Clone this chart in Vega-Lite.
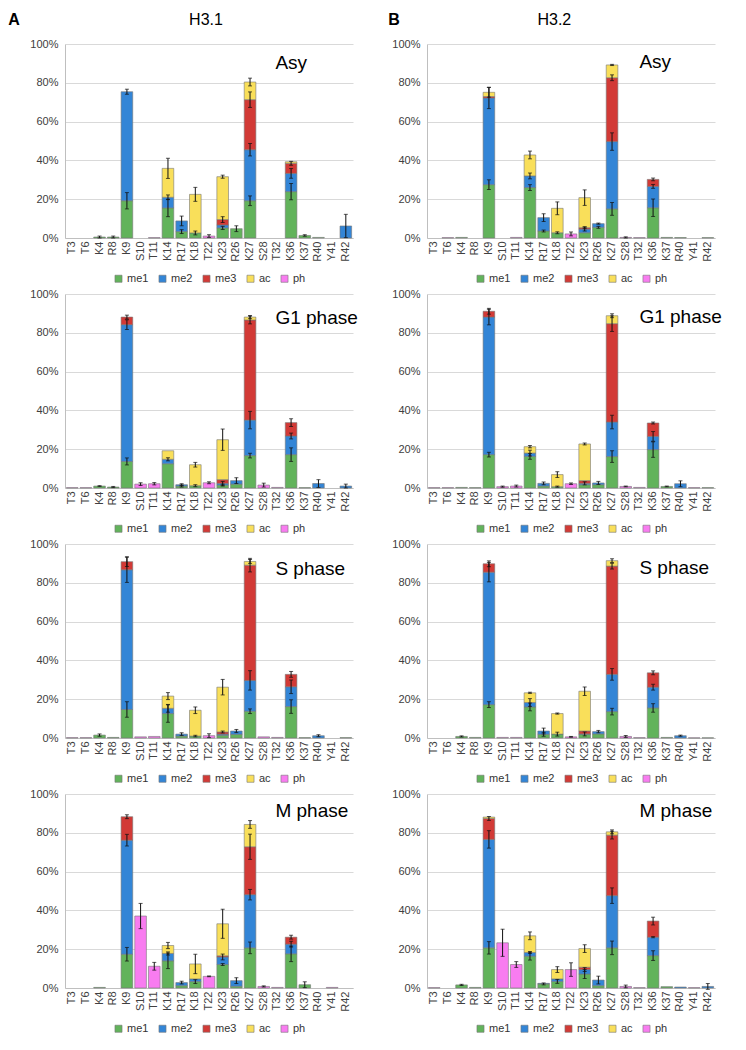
{
  "$schema": "https://vega.github.io/schema/vega-lite/v6.json",
  "background": "white",
  "padding": {"left": 8, "top": 11, "right": 6, "bottom": 6},
  "config": {
    "font": "Liberation Sans",
    "view": {"stroke": null},
    "axis": {"labelFont": "Liberation Sans", "labelFontSize": 11, "labelColor": "#404040", "ticks": false, "domainColor": "#bfbfbf", "gridColor": "#d9d9d9"},
    "axisX": {"labelAngle": 270, "grid": false, "labelPadding": 3},
    "axisY": {"grid": true, "labelPadding": 7, "domain": true},
    "legend": {"orient": "bottom", "direction": "horizontal", "symbolType": "square", "symbolSize": 50, "symbolStrokeColor": "#777", "symbolStrokeWidth": 0.6, "labelFontSize": 11, "labelColor": "#333", "columnPadding": 8, "labelOffset": 3, "offset": 11, "padding": 0, "layout": {"bottom": {"anchor": "middle"}}}
  },
  "datasets": {
    "mods": [{"mod": "me1", "rank": 1}, {"mod": "me2", "rank": 2}, {"mod": "me3", "rank": 3}, {"mod": "ac", "rank": 4}, {"mod": "ph", "rank": 5}],
    "d": [
      {"hist":"H3.1","phase":"Asy","res":"K4","mod":"me1","pct":0.5,"err":0.5},
      {"hist":"H3.1","phase":"Asy","res":"R8","mod":"me1","pct":0.5,"err":0.5},
      {"hist":"H3.1","phase":"Asy","res":"K9","mod":"me1","pct":19.2,"err":4.2},
      {"hist":"H3.1","phase":"Asy","res":"K9","mod":"me2","pct":56.2,"err":1.3},
      {"hist":"H3.1","phase":"Asy","res":"T11","mod":"ph","pct":0.2},
      {"hist":"H3.1","phase":"Asy","res":"K14","mod":"me1","pct":15.5,"err":4.5},
      {"hist":"H3.1","phase":"Asy","res":"K14","mod":"me2","pct":5.5,"err":1.2},
      {"hist":"H3.1","phase":"Asy","res":"K14","mod":"ac","pct":14.9,"err":5.2},
      {"hist":"H3.1","phase":"Asy","res":"R17","mod":"me1","pct":3.3,"err":1},
      {"hist":"H3.1","phase":"Asy","res":"R17","mod":"me2","pct":5.5,"err":2.5},
      {"hist":"H3.1","phase":"Asy","res":"K18","mod":"me1","pct":2.6,"err":1},
      {"hist":"H3.1","phase":"Asy","res":"K18","mod":"ac","pct":19.9,"err":3.6},
      {"hist":"H3.1","phase":"Asy","res":"T22","mod":"ph","pct":1.0,"err":0.7},
      {"hist":"H3.1","phase":"Asy","res":"K23","mod":"me1","pct":5.2,"err":0.8},
      {"hist":"H3.1","phase":"Asy","res":"K23","mod":"me2","pct":1.5},
      {"hist":"H3.1","phase":"Asy","res":"K23","mod":"me3","pct":2.8,"err":1.5},
      {"hist":"H3.1","phase":"Asy","res":"K23","mod":"ac","pct":22.1,"err":0.8},
      {"hist":"H3.1","phase":"Asy","res":"R26","mod":"me1","pct":4.8,"err":1.5},
      {"hist":"H3.1","phase":"Asy","res":"K27","mod":"me1","pct":19.2,"err":2.5},
      {"hist":"H3.1","phase":"Asy","res":"K27","mod":"me2","pct":26.3,"err":3.2},
      {"hist":"H3.1","phase":"Asy","res":"K27","mod":"me3","pct":25.8,"err":4},
      {"hist":"H3.1","phase":"Asy","res":"K27","mod":"ac","pct":9.1,"err":2},
      {"hist":"H3.1","phase":"Asy","res":"K36","mod":"me1","pct":23.9,"err":4.2},
      {"hist":"H3.1","phase":"Asy","res":"K36","mod":"me2","pct":9.4,"err":2.5},
      {"hist":"H3.1","phase":"Asy","res":"K36","mod":"me3","pct":5.2,"err":1},
      {"hist":"H3.1","phase":"Asy","res":"K36","mod":"ac","pct":0.8},
      {"hist":"H3.1","phase":"Asy","res":"K37","mod":"me1","pct":1.3,"err":0.4},
      {"hist":"H3.1","phase":"Asy","res":"R40","mod":"me1","pct":0.3},
      {"hist":"H3.1","phase":"Asy","res":"R42","mod":"me2","pct":6.2,"err":6},

      {"hist":"H3.2","phase":"Asy","res":"T6","mod":"ph","pct":0.2},
      {"hist":"H3.2","phase":"Asy","res":"K4","mod":"me1","pct":0.3},
      {"hist":"H3.2","phase":"Asy","res":"K9","mod":"me1","pct":27.5,"err":2.5},
      {"hist":"H3.2","phase":"Asy","res":"K9","mod":"me2","pct":44.7,"err":5.5},
      {"hist":"H3.2","phase":"Asy","res":"K9","mod":"me3","pct":0.7},
      {"hist":"H3.2","phase":"Asy","res":"K9","mod":"ac","pct":2.2,"err":2.5},
      {"hist":"H3.2","phase":"Asy","res":"T11","mod":"ph","pct":0.3},
      {"hist":"H3.2","phase":"Asy","res":"K14","mod":"me1","pct":26,"err":1.5},
      {"hist":"H3.2","phase":"Asy","res":"K14","mod":"me2","pct":6,"err":1.5},
      {"hist":"H3.2","phase":"Asy","res":"K14","mod":"ac","pct":10.8,"err":2},
      {"hist":"H3.2","phase":"Asy","res":"R17","mod":"me1","pct":3.6,"err":0.5},
      {"hist":"H3.2","phase":"Asy","res":"R17","mod":"me2","pct":6.9,"err":2},
      {"hist":"H3.2","phase":"Asy","res":"K18","mod":"me1","pct":2.7,"err":0.5},
      {"hist":"H3.2","phase":"Asy","res":"K18","mod":"ac","pct":12.6,"err":3.3},
      {"hist":"H3.2","phase":"Asy","res":"T22","mod":"ph","pct":2.1,"err":1},
      {"hist":"H3.2","phase":"Asy","res":"K23","mod":"me1","pct":2.7},
      {"hist":"H3.2","phase":"Asy","res":"K23","mod":"me2","pct":1.9,"err":1},
      {"hist":"H3.2","phase":"Asy","res":"K23","mod":"me3","pct":0.7,"err":0.5},
      {"hist":"H3.2","phase":"Asy","res":"K23","mod":"ac","pct":15.5,"err":4},
      {"hist":"H3.2","phase":"Asy","res":"R26","mod":"me1","pct":5.5,"err":0.5},
      {"hist":"H3.2","phase":"Asy","res":"R26","mod":"me2","pct":1.9,"err":0.3},
      {"hist":"H3.2","phase":"Asy","res":"K27","mod":"me1","pct":15,"err":3.3},
      {"hist":"H3.2","phase":"Asy","res":"K27","mod":"me2","pct":34.7,"err":4.5},
      {"hist":"H3.2","phase":"Asy","res":"K27","mod":"me3","pct":32.9,"err":1.5},
      {"hist":"H3.2","phase":"Asy","res":"K27","mod":"ac","pct":6.6,"err":0.3},
      {"hist":"H3.2","phase":"Asy","res":"S28","mod":"ph","pct":0.3,"err":0.3},
      {"hist":"H3.2","phase":"Asy","res":"T32","mod":"ph","pct":0.2},
      {"hist":"H3.2","phase":"Asy","res":"K36","mod":"me1","pct":15.6,"err":4.5},
      {"hist":"H3.2","phase":"Asy","res":"K36","mod":"me2","pct":11,"err":1},
      {"hist":"H3.2","phase":"Asy","res":"K36","mod":"me3","pct":3.6,"err":0.7},
      {"hist":"H3.2","phase":"Asy","res":"K37","mod":"me1","pct":0.3},
      {"hist":"H3.2","phase":"Asy","res":"R40","mod":"me1","pct":0.2},
      {"hist":"H3.2","phase":"Asy","res":"R42","mod":"me1","pct":0.2},

      {"hist":"H3.1","phase":"G1","res":"T3","mod":"ph","pct":0.2},
      {"hist":"H3.1","phase":"G1","res":"T6","mod":"ph","pct":0.2},
      {"hist":"H3.1","phase":"G1","res":"K4","mod":"me1","pct":1.0,"err":0.2},
      {"hist":"H3.1","phase":"G1","res":"R8","mod":"me1","pct":0.5,"err":0.3},
      {"hist":"H3.1","phase":"G1","res":"K9","mod":"me1","pct":13.7,"err":1.8},
      {"hist":"H3.1","phase":"G1","res":"K9","mod":"me2","pct":70.5,"err":2.5},
      {"hist":"H3.1","phase":"G1","res":"K9","mod":"me3","pct":3.9,"err":1},
      {"hist":"H3.1","phase":"G1","res":"S10","mod":"ph","pct":2.0,"err":0.7},
      {"hist":"H3.1","phase":"G1","res":"T11","mod":"ph","pct":2.2,"err":0.6},
      {"hist":"H3.1","phase":"G1","res":"K14","mod":"me1","pct":12.5},
      {"hist":"H3.1","phase":"G1","res":"K14","mod":"me2","pct":2.3,"err":0.8},
      {"hist":"H3.1","phase":"G1","res":"K14","mod":"ac","pct":4.4},
      {"hist":"H3.1","phase":"G1","res":"R17","mod":"me1","pct":1.0,"err":0.5},
      {"hist":"H3.1","phase":"G1","res":"R17","mod":"me2","pct":0.7,"err":0.5},
      {"hist":"H3.1","phase":"G1","res":"K18","mod":"me1","pct":1.2,"err":0.5},
      {"hist":"H3.1","phase":"G1","res":"K18","mod":"ac","pct":10.8,"err":1.2},
      {"hist":"H3.1","phase":"G1","res":"T22","mod":"ph","pct":2.7,"err":0.5},
      {"hist":"H3.1","phase":"G1","res":"K23","mod":"me1","pct":1.5,"err":0.5},
      {"hist":"H3.1","phase":"G1","res":"K23","mod":"me2","pct":0.9,"err":1},
      {"hist":"H3.1","phase":"G1","res":"K23","mod":"me3","pct":1.9},
      {"hist":"H3.1","phase":"G1","res":"K23","mod":"ac","pct":20.6,"err":5.5},
      {"hist":"H3.1","phase":"G1","res":"R26","mod":"me1","pct":2.0},
      {"hist":"H3.1","phase":"G1","res":"R26","mod":"me2","pct":1.8,"err":1.5},
      {"hist":"H3.1","phase":"G1","res":"K27","mod":"me1","pct":16.7,"err":1.2},
      {"hist":"H3.1","phase":"G1","res":"K27","mod":"me2","pct":18.3,"err":4.5},
      {"hist":"H3.1","phase":"G1","res":"K27","mod":"me3","pct":51.6,"err":2},
      {"hist":"H3.1","phase":"G1","res":"K27","mod":"ac","pct":1.5,"err":0.8},
      {"hist":"H3.1","phase":"G1","res":"S28","mod":"ph","pct":1.5,"err":1},
      {"hist":"H3.1","phase":"G1","res":"T32","mod":"ph","pct":0.3},
      {"hist":"H3.1","phase":"G1","res":"K36","mod":"me1","pct":17.2,"err":3.5},
      {"hist":"H3.1","phase":"G1","res":"K36","mod":"me2","pct":9.6,"err":1.5},
      {"hist":"H3.1","phase":"G1","res":"K36","mod":"me3","pct":6.9,"err":2},
      {"hist":"H3.1","phase":"G1","res":"K37","mod":"me1","pct":0.2},
      {"hist":"H3.1","phase":"G1","res":"R40","mod":"me2","pct":2.3,"err":2},
      {"hist":"H3.1","phase":"G1","res":"R42","mod":"me2","pct":1.0,"err":1},

      {"hist":"H3.2","phase":"G1","res":"T3","mod":"ph","pct":0.2},
      {"hist":"H3.2","phase":"G1","res":"T6","mod":"ph","pct":0.2},
      {"hist":"H3.2","phase":"G1","res":"K4","mod":"me1","pct":0.3},
      {"hist":"H3.2","phase":"G1","res":"R8","mod":"me1","pct":0.2},
      {"hist":"H3.2","phase":"G1","res":"K9","mod":"me1","pct":17.2,"err":1.2},
      {"hist":"H3.2","phase":"G1","res":"K9","mod":"me2","pct":70.9,"err":4},
      {"hist":"H3.2","phase":"G1","res":"K9","mod":"me3","pct":3.0,"err":1.5},
      {"hist":"H3.2","phase":"G1","res":"S10","mod":"ph","pct":0.7,"err":0.3},
      {"hist":"H3.2","phase":"G1","res":"T11","mod":"ph","pct":1.0,"err":0.5},
      {"hist":"H3.2","phase":"G1","res":"K14","mod":"me1","pct":16.3,"err":1.5},
      {"hist":"H3.2","phase":"G1","res":"K14","mod":"me2","pct":1.7,"err":1.5},
      {"hist":"H3.2","phase":"G1","res":"K14","mod":"ac","pct":3.3,"err":0.6},
      {"hist":"H3.2","phase":"G1","res":"R17","mod":"me1","pct":1.0},
      {"hist":"H3.2","phase":"G1","res":"R17","mod":"me2","pct":1.4,"err":0.7},
      {"hist":"H3.2","phase":"G1","res":"K18","mod":"me1","pct":0.7,"err":0.3},
      {"hist":"H3.2","phase":"G1","res":"K18","mod":"ac","pct":6.2,"err":1.5},
      {"hist":"H3.2","phase":"G1","res":"T22","mod":"ph","pct":2.2,"err":0.4},
      {"hist":"H3.2","phase":"G1","res":"K23","mod":"me1","pct":1.7},
      {"hist":"H3.2","phase":"G1","res":"K23","mod":"me2","pct":0.7,"err":0.8},
      {"hist":"H3.2","phase":"G1","res":"K23","mod":"me3","pct":1.4},
      {"hist":"H3.2","phase":"G1","res":"K23","mod":"ac","pct":18.9,"err":0.5},
      {"hist":"H3.2","phase":"G1","res":"R26","mod":"me1","pct":1.7},
      {"hist":"H3.2","phase":"G1","res":"R26","mod":"me2","pct":0.9,"err":0.8},
      {"hist":"H3.2","phase":"G1","res":"K27","mod":"me1","pct":16.2,"err":3},
      {"hist":"H3.2","phase":"G1","res":"K27","mod":"me2","pct":17.8,"err":3.5},
      {"hist":"H3.2","phase":"G1","res":"K27","mod":"me3","pct":50.7,"err":4},
      {"hist":"H3.2","phase":"G1","res":"K27","mod":"ac","pct":4.1,"err":1},
      {"hist":"H3.2","phase":"G1","res":"S28","mod":"ph","pct":0.8,"err":0.2},
      {"hist":"H3.2","phase":"G1","res":"T32","mod":"ph","pct":0.3},
      {"hist":"H3.2","phase":"G1","res":"K36","mod":"me1","pct":19.8,"err":4},
      {"hist":"H3.2","phase":"G1","res":"K36","mod":"me2","pct":6.8,"err":2.5},
      {"hist":"H3.2","phase":"G1","res":"K36","mod":"me3","pct":6.9,"err":0.5},
      {"hist":"H3.2","phase":"G1","res":"K37","mod":"me1","pct":0.8,"err":0.2},
      {"hist":"H3.2","phase":"G1","res":"R40","mod":"me2","pct":2.2,"err":1.5},
      {"hist":"H3.2","phase":"G1","res":"Y41","mod":"ph","pct":0.2},
      {"hist":"H3.2","phase":"G1","res":"R42","mod":"me1","pct":0.2},

      {"hist":"H3.1","phase":"S","res":"T3","mod":"ph","pct":0.2},
      {"hist":"H3.1","phase":"S","res":"T6","mod":"ph","pct":0.2},
      {"hist":"H3.1","phase":"S","res":"K4","mod":"me1","pct":1.5,"err":0.6},
      {"hist":"H3.1","phase":"S","res":"R8","mod":"me1","pct":0.3},
      {"hist":"H3.1","phase":"S","res":"K9","mod":"me1","pct":14.7,"err":4},
      {"hist":"H3.1","phase":"S","res":"K9","mod":"me2","pct":72,"err":6.5},
      {"hist":"H3.1","phase":"S","res":"K9","mod":"me3","pct":4.2,"err":2.5},
      {"hist":"H3.1","phase":"S","res":"S10","mod":"ph","pct":0.6},
      {"hist":"H3.1","phase":"S","res":"T11","mod":"ph","pct":0.8},
      {"hist":"H3.1","phase":"S","res":"K14","mod":"me1","pct":12.6,"err":4.5},
      {"hist":"H3.1","phase":"S","res":"K14","mod":"me2","pct":2.7,"err":2},
      {"hist":"H3.1","phase":"S","res":"K14","mod":"ac","pct":6.3,"err":1.8},
      {"hist":"H3.1","phase":"S","res":"R17","mod":"me1","pct":1.0},
      {"hist":"H3.1","phase":"S","res":"R17","mod":"me2","pct":1.0,"err":0.7},
      {"hist":"H3.1","phase":"S","res":"K18","mod":"me1","pct":1.0,"err":0.4},
      {"hist":"H3.1","phase":"S","res":"K18","mod":"ac","pct":13.3,"err":1.7},
      {"hist":"H3.1","phase":"S","res":"T22","mod":"ph","pct":1.2,"err":1},
      {"hist":"H3.1","phase":"S","res":"K23","mod":"me1","pct":1.4},
      {"hist":"H3.1","phase":"S","res":"K23","mod":"me2","pct":0.6},
      {"hist":"H3.1","phase":"S","res":"K23","mod":"me3","pct":1.1,"err":0.5},
      {"hist":"H3.1","phase":"S","res":"K23","mod":"ac","pct":23.1,"err":4},
      {"hist":"H3.1","phase":"S","res":"R26","mod":"me1","pct":1.9},
      {"hist":"H3.1","phase":"S","res":"R26","mod":"me2","pct":1.7,"err":0.8},
      {"hist":"H3.1","phase":"S","res":"K27","mod":"me1","pct":13.8,"err":1.2},
      {"hist":"H3.1","phase":"S","res":"K27","mod":"me2","pct":15.9,"err":5},
      {"hist":"H3.1","phase":"S","res":"K27","mod":"me3","pct":59.4,"err":3.5},
      {"hist":"H3.1","phase":"S","res":"K27","mod":"ac","pct":1.9,"err":1},
      {"hist":"H3.1","phase":"S","res":"S28","mod":"ph","pct":0.6},
      {"hist":"H3.1","phase":"S","res":"T32","mod":"ph","pct":0.3},
      {"hist":"H3.1","phase":"S","res":"K36","mod":"me1","pct":16.2,"err":3.5},
      {"hist":"H3.1","phase":"S","res":"K36","mod":"me2","pct":10.2,"err":3.5},
      {"hist":"H3.1","phase":"S","res":"K36","mod":"me3","pct":6.4,"err":1.5},
      {"hist":"H3.1","phase":"S","res":"K37","mod":"me1","pct":0.2},
      {"hist":"H3.1","phase":"S","res":"R40","mod":"me2","pct":1.2,"err":0.5},
      {"hist":"H3.1","phase":"S","res":"R42","mod":"me1","pct":0.2},

      {"hist":"H3.2","phase":"S","res":"K4","mod":"me1","pct":0.8,"err":0.3},
      {"hist":"H3.2","phase":"S","res":"R8","mod":"me1","pct":0.3},
      {"hist":"H3.2","phase":"S","res":"K9","mod":"me1","pct":17.2,"err":1.5},
      {"hist":"H3.2","phase":"S","res":"K9","mod":"me2","pct":68.3,"err":5},
      {"hist":"H3.2","phase":"S","res":"K9","mod":"me3","pct":4.3,"err":1.5},
      {"hist":"H3.2","phase":"S","res":"S10","mod":"ph","pct":0.3},
      {"hist":"H3.2","phase":"S","res":"T11","mod":"ph","pct":0.3},
      {"hist":"H3.2","phase":"S","res":"K14","mod":"me1","pct":16,"err":2},
      {"hist":"H3.2","phase":"S","res":"K14","mod":"me2","pct":2.3,"err":2},
      {"hist":"H3.2","phase":"S","res":"K14","mod":"ac","pct":5,"err":0.3},
      {"hist":"H3.2","phase":"S","res":"R17","mod":"me1","pct":1.9,"err":1},
      {"hist":"H3.2","phase":"S","res":"R17","mod":"me2","pct":1.7,"err":1.5},
      {"hist":"H3.2","phase":"S","res":"K18","mod":"me1","pct":2.0,"err":1},
      {"hist":"H3.2","phase":"S","res":"K18","mod":"ac","pct":10.6,"err":0.3},
      {"hist":"H3.2","phase":"S","res":"T22","mod":"ph","pct":0.6,"err":0.2},
      {"hist":"H3.2","phase":"S","res":"K23","mod":"me1","pct":1.9},
      {"hist":"H3.2","phase":"S","res":"K23","mod":"me2","pct":0.2,"err":1},
      {"hist":"H3.2","phase":"S","res":"K23","mod":"me3","pct":1.5},
      {"hist":"H3.2","phase":"S","res":"K23","mod":"ac","pct":20.5,"err":2.2},
      {"hist":"H3.2","phase":"S","res":"R26","mod":"me1","pct":2.1},
      {"hist":"H3.2","phase":"S","res":"R26","mod":"me2","pct":1.2,"err":0.6},
      {"hist":"H3.2","phase":"S","res":"K27","mod":"me1","pct":13.6,"err":1.7},
      {"hist":"H3.2","phase":"S","res":"K27","mod":"me2","pct":19.2,"err":3},
      {"hist":"H3.2","phase":"S","res":"K27","mod":"me3","pct":55.8,"err":1.5},
      {"hist":"H3.2","phase":"S","res":"K27","mod":"ac","pct":2.8,"err":1},
      {"hist":"H3.2","phase":"S","res":"S28","mod":"ph","pct":0.8,"err":0.5},
      {"hist":"H3.2","phase":"S","res":"T32","mod":"ph","pct":0.2},
      {"hist":"H3.2","phase":"S","res":"K36","mod":"me1","pct":15.5,"err":2.2},
      {"hist":"H3.2","phase":"S","res":"K36","mod":"me2","pct":10.7,"err":1.5},
      {"hist":"H3.2","phase":"S","res":"K36","mod":"me3","pct":7.4,"err":1},
      {"hist":"H3.2","phase":"S","res":"K37","mod":"me1","pct":0.3},
      {"hist":"H3.2","phase":"S","res":"R40","mod":"me2","pct":1.2,"err":0.3},
      {"hist":"H3.2","phase":"S","res":"Y41","mod":"ph","pct":0.1},
      {"hist":"H3.2","phase":"S","res":"R42","mod":"me1","pct":0.1},

      {"hist":"H3.1","phase":"M","res":"K4","mod":"me1","pct":0.3},
      {"hist":"H3.1","phase":"M","res":"K9","mod":"me1","pct":17.4,"err":3.5},
      {"hist":"H3.1","phase":"M","res":"K9","mod":"me2","pct":58.8,"err":3},
      {"hist":"H3.1","phase":"M","res":"K9","mod":"me3","pct":12.1,"err":1},
      {"hist":"H3.1","phase":"M","res":"S10","mod":"ph","pct":37.1,"err":6.5},
      {"hist":"H3.1","phase":"M","res":"T11","mod":"ph","pct":11.2,"err":2},
      {"hist":"H3.1","phase":"M","res":"K14","mod":"me1","pct":14,"err":4},
      {"hist":"H3.1","phase":"M","res":"K14","mod":"me2","pct":3.8,"err":0.8},
      {"hist":"H3.1","phase":"M","res":"K14","mod":"ac","pct":4.1,"err":1.6},
      {"hist":"H3.1","phase":"M","res":"R17","mod":"me1","pct":1.2},
      {"hist":"H3.1","phase":"M","res":"R17","mod":"me2","pct":1.6,"err":0.7},
      {"hist":"H3.1","phase":"M","res":"K18","mod":"me1","pct":3.3,"err":1},
      {"hist":"H3.1","phase":"M","res":"K18","mod":"me2","pct":1.4},
      {"hist":"H3.1","phase":"M","res":"K18","mod":"ac","pct":7.7,"err":5},
      {"hist":"H3.1","phase":"M","res":"T22","mod":"ph","pct":6,"err":0.2},
      {"hist":"H3.1","phase":"M","res":"K23","mod":"me1","pct":12.1,"err":0.5},
      {"hist":"H3.1","phase":"M","res":"K23","mod":"me2","pct":3.9,"err":1.5},
      {"hist":"H3.1","phase":"M","res":"K23","mod":"me3","pct":0.6},
      {"hist":"H3.1","phase":"M","res":"K23","mod":"ac","pct":16.5,"err":7.5},
      {"hist":"H3.1","phase":"M","res":"R26","mod":"me1","pct":0.9},
      {"hist":"H3.1","phase":"M","res":"R26","mod":"me2","pct":2.9,"err":1.5},
      {"hist":"H3.1","phase":"M","res":"K27","mod":"me1","pct":20.7,"err":3},
      {"hist":"H3.1","phase":"M","res":"K27","mod":"me2","pct":27.4,"err":2.7},
      {"hist":"H3.1","phase":"M","res":"K27","mod":"me3","pct":24.7,"err":6.5},
      {"hist":"H3.1","phase":"M","res":"K27","mod":"ac","pct":11.5,"err":2},
      {"hist":"H3.1","phase":"M","res":"S28","mod":"ph","pct":0.8,"err":0.3},
      {"hist":"H3.1","phase":"M","res":"T32","mod":"ph","pct":0.3},
      {"hist":"H3.1","phase":"M","res":"K36","mod":"me1","pct":17.6,"err":4},
      {"hist":"H3.1","phase":"M","res":"K36","mod":"me2","pct":5,"err":1.5},
      {"hist":"H3.1","phase":"M","res":"K36","mod":"me3","pct":3.6,"err":1},
      {"hist":"H3.1","phase":"M","res":"K37","mod":"me1","pct":1.7,"err":1.5},
      {"hist":"H3.1","phase":"M","res":"Y41","mod":"ph","pct":0.3},

      {"hist":"H3.2","phase":"M","res":"T3","mod":"ph","pct":0.2},
      {"hist":"H3.2","phase":"M","res":"K4","mod":"me1","pct":1.6,"err":0.3},
      {"hist":"H3.2","phase":"M","res":"R8","mod":"me1","pct":0.3},
      {"hist":"H3.2","phase":"M","res":"K9","mod":"me1","pct":20.7,"err":3.2},
      {"hist":"H3.2","phase":"M","res":"K9","mod":"me2","pct":55.9,"err":4.5},
      {"hist":"H3.2","phase":"M","res":"K9","mod":"me3","pct":10.8,"err":1},
      {"hist":"H3.2","phase":"M","res":"K9","mod":"ac","pct":0.7},
      {"hist":"H3.2","phase":"M","res":"S10","mod":"ph","pct":23.3,"err":7},
      {"hist":"H3.2","phase":"M","res":"T11","mod":"ph","pct":12.1,"err":1.5},
      {"hist":"H3.2","phase":"M","res":"K14","mod":"me1","pct":16.4,"err":2},
      {"hist":"H3.2","phase":"M","res":"K14","mod":"me2","pct":1.9,"err":0.5},
      {"hist":"H3.2","phase":"M","res":"K14","mod":"ac","pct":8.6,"err":2},
      {"hist":"H3.2","phase":"M","res":"R17","mod":"me1","pct":2.1,"err":0.5},
      {"hist":"H3.2","phase":"M","res":"R17","mod":"me2","pct":0.3},
      {"hist":"H3.2","phase":"M","res":"K18","mod":"me1","pct":3.4,"err":1},
      {"hist":"H3.2","phase":"M","res":"K18","mod":"me2","pct":1.3},
      {"hist":"H3.2","phase":"M","res":"K18","mod":"ac","pct":4.8,"err":1.5},
      {"hist":"H3.2","phase":"M","res":"T22","mod":"ph","pct":9.5,"err":3.5},
      {"hist":"H3.2","phase":"M","res":"K23","mod":"me1","pct":7.2,"err":2.3},
      {"hist":"H3.2","phase":"M","res":"K23","mod":"me2","pct":2.3,"err":1},
      {"hist":"H3.2","phase":"M","res":"K23","mod":"me3","pct":1.2},
      {"hist":"H3.2","phase":"M","res":"K23","mod":"ac","pct":9.6,"err":2},
      {"hist":"H3.2","phase":"M","res":"R26","mod":"me1","pct":1.2},
      {"hist":"H3.2","phase":"M","res":"R26","mod":"me2","pct":2.9,"err":2},
      {"hist":"H3.2","phase":"M","res":"K27","mod":"me1","pct":20.7,"err":3.5},
      {"hist":"H3.2","phase":"M","res":"K27","mod":"me2","pct":26.9,"err":4},
      {"hist":"H3.2","phase":"M","res":"K27","mod":"me3","pct":31.2,"err":2},
      {"hist":"H3.2","phase":"M","res":"K27","mod":"ac","pct":1.7,"err":1},
      {"hist":"H3.2","phase":"M","res":"S28","mod":"ph","pct":0.8,"err":0.7},
      {"hist":"H3.2","phase":"M","res":"T32","mod":"ph","pct":0.2},
      {"hist":"H3.2","phase":"M","res":"K36","mod":"me1","pct":16.7,"err":2.5},
      {"hist":"H3.2","phase":"M","res":"K36","mod":"me2","pct":9.5,"err":0.3},
      {"hist":"H3.2","phase":"M","res":"K36","mod":"me3","pct":8.3,"err":2},
      {"hist":"H3.2","phase":"M","res":"K37","mod":"me1","pct":0.7},
      {"hist":"H3.2","phase":"M","res":"R40","mod":"me2","pct":0.5},
      {"hist":"H3.2","phase":"M","res":"Y41","mod":"ph","pct":0.2},
      {"hist":"H3.2","phase":"M","res":"R42","mod":"me2","pct":0.8,"err":1.5}
    ]
  },
  "data": {"name": "d"},
  "spacing": 30,
  "resolve": {"scale": {"color": "independent"}, "legend": {"color": "independent"}},
  "hconcat": [
    {
      "spacing": 4,
      "resolve": {"scale": {"color": "independent"}, "legend": {"color": "independent"}},
      "vconcat": [
        {
          "width": 288, "height": 194,
          "transform": [
            {"filter": "datum.hist === 'H3.1' && datum.phase === 'Asy'"},
            {"lookup": "mod", "from": {"data": {"name": "mods"}, "key": "mod", "fields": ["rank"]}},
            {"stack": "pct", "groupby": ["res"], "sort": [{"field": "rank", "order": "ascending"}], "as": ["lo", "hi"]}
          ],
          "layer": [
            {"mark": {"type": "bar", "stroke": "#777", "strokeWidth": 0.6},
             "encoding": {
               "x": {"field": "res", "type": "nominal", "title": null, "scale": {"domain": ["T3","T6","K4","R8","K9","S10","T11","K14","R17","K18","T22","K23","R26","K27","S28","T32","K36","K37","R40","Y41","R42"], "paddingInner": 0.15, "paddingOuter": 0.1}},
               "y": {"field": "lo", "type": "quantitative", "title": null, "scale": {"domain": [0, 100]}, "axis": {"tickCount": 5, "labelExpr": "datum.value + '%'", "labelOverlap": false}},
               "y2": {"field": "hi"},
               "color": {"field": "mod", "type": "nominal", "title": null, "scale": {"domain": ["me1","me2","me3","ac","ph"], "range": ["#62b35b","#3385d6","#d23a36","#f9df5a","#f87cf0"]}}
             }},
            {"transform": [{"filter": "datum.err > 0"}],
             "mark": {"type": "errorbar", "ticks": {"size": 4}, "color": "#111", "thickness": 1},
             "encoding": {"x": {"field": "res", "type": "nominal"}, "y": {"field": "hi", "type": "quantitative", "title": null}, "yError": {"field": "err"}}},
            {"data": {"values": [{"t": "Asy"}]},
             "mark": {"type": "text", "align": "left", "baseline": "alphabetic", "fontSize": 19, "dx": -2, "color": "#000"},
             "encoding": {"x": {"datum": "T32"}, "y": {"datum": 87}, "text": {"field": "t"}}},
            {"data": {"values": [{"t": "A"}]},
             "mark": {"type": "text", "align": "left", "baseline": "alphabetic", "fontSize": 16, "fontWeight": "bold", "dx": -64, "color": "#000"},
             "encoding": {"x": {"datum": "T3"}, "y": {"datum": 110}, "text": {"field": "t"}}},
            {"data": {"values": [{"t": "H3.1"}]},
             "mark": {"type": "text", "align": "center", "baseline": "alphabetic", "fontSize": 16, "dx": -3, "color": "#000"},
             "encoding": {"x": {"datum": "T22"}, "y": {"datum": 110}, "text": {"field": "t"}}}
          ]
        },
        {
          "width": 288, "height": 194,
          "transform": [
            {"filter": "datum.hist === 'H3.1' && datum.phase === 'G1'"},
            {"lookup": "mod", "from": {"data": {"name": "mods"}, "key": "mod", "fields": ["rank"]}},
            {"stack": "pct", "groupby": ["res"], "sort": [{"field": "rank", "order": "ascending"}], "as": ["lo", "hi"]}
          ],
          "layer": [
            {"mark": {"type": "bar", "stroke": "#777", "strokeWidth": 0.6},
             "encoding": {
               "x": {"field": "res", "type": "nominal", "title": null, "scale": {"domain": ["T3","T6","K4","R8","K9","S10","T11","K14","R17","K18","T22","K23","R26","K27","S28","T32","K36","K37","R40","Y41","R42"], "paddingInner": 0.15, "paddingOuter": 0.1}},
               "y": {"field": "lo", "type": "quantitative", "title": null, "scale": {"domain": [0, 100]}, "axis": {"tickCount": 5, "labelExpr": "datum.value + '%'", "labelOverlap": false}},
               "y2": {"field": "hi"},
               "color": {"field": "mod", "type": "nominal", "title": null, "scale": {"domain": ["me1","me2","me3","ac","ph"], "range": ["#62b35b","#3385d6","#d23a36","#f9df5a","#f87cf0"]}}
             }},
            {"transform": [{"filter": "datum.err > 0"}],
             "mark": {"type": "errorbar", "ticks": {"size": 4}, "color": "#111", "thickness": 1},
             "encoding": {"x": {"field": "res", "type": "nominal"}, "y": {"field": "hi", "type": "quantitative", "title": null}, "yError": {"field": "err"}}},
            {"data": {"values": [{"t": "G1 phase"}]},
             "mark": {"type": "text", "align": "left", "baseline": "alphabetic", "fontSize": 19, "dx": -2, "color": "#000"},
             "encoding": {"x": {"datum": "T32"}, "y": {"datum": 84.5}, "text": {"field": "t"}}}
          ]
        },
        {
          "width": 288, "height": 194,
          "transform": [
            {"filter": "datum.hist === 'H3.1' && datum.phase === 'S'"},
            {"lookup": "mod", "from": {"data": {"name": "mods"}, "key": "mod", "fields": ["rank"]}},
            {"stack": "pct", "groupby": ["res"], "sort": [{"field": "rank", "order": "ascending"}], "as": ["lo", "hi"]}
          ],
          "layer": [
            {"mark": {"type": "bar", "stroke": "#777", "strokeWidth": 0.6},
             "encoding": {
               "x": {"field": "res", "type": "nominal", "title": null, "scale": {"domain": ["T3","T6","K4","R8","K9","S10","T11","K14","R17","K18","T22","K23","R26","K27","S28","T32","K36","K37","R40","Y41","R42"], "paddingInner": 0.15, "paddingOuter": 0.1}},
               "y": {"field": "lo", "type": "quantitative", "title": null, "scale": {"domain": [0, 100]}, "axis": {"tickCount": 5, "labelExpr": "datum.value + '%'", "labelOverlap": false}},
               "y2": {"field": "hi"},
               "color": {"field": "mod", "type": "nominal", "title": null, "scale": {"domain": ["me1","me2","me3","ac","ph"], "range": ["#62b35b","#3385d6","#d23a36","#f9df5a","#f87cf0"]}}
             }},
            {"transform": [{"filter": "datum.err > 0"}],
             "mark": {"type": "errorbar", "ticks": {"size": 4}, "color": "#111", "thickness": 1},
             "encoding": {"x": {"field": "res", "type": "nominal"}, "y": {"field": "hi", "type": "quantitative", "title": null}, "yError": {"field": "err"}}},
            {"data": {"values": [{"t": "S phase"}]},
             "mark": {"type": "text", "align": "left", "baseline": "alphabetic", "fontSize": 19, "dx": -2, "color": "#000"},
             "encoding": {"x": {"datum": "T32"}, "y": {"datum": 84}, "text": {"field": "t"}}}
          ]
        },
        {
          "width": 288, "height": 194,
          "transform": [
            {"filter": "datum.hist === 'H3.1' && datum.phase === 'M'"},
            {"lookup": "mod", "from": {"data": {"name": "mods"}, "key": "mod", "fields": ["rank"]}},
            {"stack": "pct", "groupby": ["res"], "sort": [{"field": "rank", "order": "ascending"}], "as": ["lo", "hi"]}
          ],
          "layer": [
            {"mark": {"type": "bar", "stroke": "#777", "strokeWidth": 0.6},
             "encoding": {
               "x": {"field": "res", "type": "nominal", "title": null, "scale": {"domain": ["T3","T6","K4","R8","K9","S10","T11","K14","R17","K18","T22","K23","R26","K27","S28","T32","K36","K37","R40","Y41","R42"], "paddingInner": 0.15, "paddingOuter": 0.1}},
               "y": {"field": "lo", "type": "quantitative", "title": null, "scale": {"domain": [0, 100]}, "axis": {"tickCount": 5, "labelExpr": "datum.value + '%'", "labelOverlap": false}},
               "y2": {"field": "hi"},
               "color": {"field": "mod", "type": "nominal", "title": null, "scale": {"domain": ["me1","me2","me3","ac","ph"], "range": ["#62b35b","#3385d6","#d23a36","#f9df5a","#f87cf0"]}}
             }},
            {"transform": [{"filter": "datum.err > 0"}],
             "mark": {"type": "errorbar", "ticks": {"size": 4}, "color": "#111", "thickness": 1},
             "encoding": {"x": {"field": "res", "type": "nominal"}, "y": {"field": "hi", "type": "quantitative", "title": null}, "yError": {"field": "err"}}},
            {"data": {"values": [{"t": "M phase"}]},
             "mark": {"type": "text", "align": "left", "baseline": "alphabetic", "fontSize": 19, "dx": -2, "color": "#000"},
             "encoding": {"x": {"datum": "T32"}, "y": {"datum": 88}, "text": {"field": "t"}}}
          ]
        }
      ]
    },
    {
      "spacing": 4,
      "resolve": {"scale": {"color": "independent"}, "legend": {"color": "independent"}},
      "vconcat": [
        {
          "width": 288, "height": 194,
          "transform": [
            {"filter": "datum.hist === 'H3.2' && datum.phase === 'Asy'"},
            {"lookup": "mod", "from": {"data": {"name": "mods"}, "key": "mod", "fields": ["rank"]}},
            {"stack": "pct", "groupby": ["res"], "sort": [{"field": "rank", "order": "ascending"}], "as": ["lo", "hi"]}
          ],
          "layer": [
            {"mark": {"type": "bar", "stroke": "#777", "strokeWidth": 0.6},
             "encoding": {
               "x": {"field": "res", "type": "nominal", "title": null, "scale": {"domain": ["T3","T6","K4","R8","K9","S10","T11","K14","R17","K18","T22","K23","R26","K27","S28","T32","K36","K37","R40","Y41","R42"], "paddingInner": 0.15, "paddingOuter": 0.1}},
               "y": {"field": "lo", "type": "quantitative", "title": null, "scale": {"domain": [0, 100]}, "axis": {"tickCount": 5, "labelExpr": "datum.value + '%'", "labelOverlap": false}},
               "y2": {"field": "hi"},
               "color": {"field": "mod", "type": "nominal", "title": null, "scale": {"domain": ["me1","me2","me3","ac","ph"], "range": ["#62b35b","#3385d6","#d23a36","#f9df5a","#f87cf0"]}}
             }},
            {"transform": [{"filter": "datum.err > 0"}],
             "mark": {"type": "errorbar", "ticks": {"size": 4}, "color": "#111", "thickness": 1},
             "encoding": {"x": {"field": "res", "type": "nominal"}, "y": {"field": "hi", "type": "quantitative", "title": null}, "yError": {"field": "err"}}},
            {"data": {"values": [{"t": "Asy"}]},
             "mark": {"type": "text", "align": "left", "baseline": "alphabetic", "fontSize": 19, "dx": 0, "color": "#000"},
             "encoding": {"x": {"datum": "T32"}, "y": {"datum": 87.5}, "text": {"field": "t"}}},
            {"data": {"values": [{"t": "B"}]},
             "mark": {"type": "text", "align": "left", "baseline": "alphabetic", "fontSize": 16, "fontWeight": "bold", "dx": -46, "color": "#000"},
             "encoding": {"x": {"datum": "T3"}, "y": {"datum": 110}, "text": {"field": "t"}}},
            {"data": {"values": [{"t": "H3.2"}]},
             "mark": {"type": "text", "align": "center", "baseline": "alphabetic", "fontSize": 16, "dx": -3, "color": "#000"},
             "encoding": {"x": {"datum": "K18"}, "y": {"datum": 110}, "text": {"field": "t"}}}
          ]
        },
        {
          "width": 288, "height": 194,
          "transform": [
            {"filter": "datum.hist === 'H3.2' && datum.phase === 'G1'"},
            {"lookup": "mod", "from": {"data": {"name": "mods"}, "key": "mod", "fields": ["rank"]}},
            {"stack": "pct", "groupby": ["res"], "sort": [{"field": "rank", "order": "ascending"}], "as": ["lo", "hi"]}
          ],
          "layer": [
            {"mark": {"type": "bar", "stroke": "#777", "strokeWidth": 0.6},
             "encoding": {
               "x": {"field": "res", "type": "nominal", "title": null, "scale": {"domain": ["T3","T6","K4","R8","K9","S10","T11","K14","R17","K18","T22","K23","R26","K27","S28","T32","K36","K37","R40","Y41","R42"], "paddingInner": 0.15, "paddingOuter": 0.1}},
               "y": {"field": "lo", "type": "quantitative", "title": null, "scale": {"domain": [0, 100]}, "axis": {"tickCount": 5, "labelExpr": "datum.value + '%'", "labelOverlap": false}},
               "y2": {"field": "hi"},
               "color": {"field": "mod", "type": "nominal", "title": null, "scale": {"domain": ["me1","me2","me3","ac","ph"], "range": ["#62b35b","#3385d6","#d23a36","#f9df5a","#f87cf0"]}}
             }},
            {"transform": [{"filter": "datum.err > 0"}],
             "mark": {"type": "errorbar", "ticks": {"size": 4}, "color": "#111", "thickness": 1},
             "encoding": {"x": {"field": "res", "type": "nominal"}, "y": {"field": "hi", "type": "quantitative", "title": null}, "yError": {"field": "err"}}},
            {"data": {"values": [{"t": "G1 phase"}]},
             "mark": {"type": "text", "align": "left", "baseline": "alphabetic", "fontSize": 19, "dx": 0, "color": "#000"},
             "encoding": {"x": {"datum": "T32"}, "y": {"datum": 85}, "text": {"field": "t"}}}
          ]
        },
        {
          "width": 288, "height": 194,
          "transform": [
            {"filter": "datum.hist === 'H3.2' && datum.phase === 'S'"},
            {"lookup": "mod", "from": {"data": {"name": "mods"}, "key": "mod", "fields": ["rank"]}},
            {"stack": "pct", "groupby": ["res"], "sort": [{"field": "rank", "order": "ascending"}], "as": ["lo", "hi"]}
          ],
          "layer": [
            {"mark": {"type": "bar", "stroke": "#777", "strokeWidth": 0.6},
             "encoding": {
               "x": {"field": "res", "type": "nominal", "title": null, "scale": {"domain": ["T3","T6","K4","R8","K9","S10","T11","K14","R17","K18","T22","K23","R26","K27","S28","T32","K36","K37","R40","Y41","R42"], "paddingInner": 0.15, "paddingOuter": 0.1}},
               "y": {"field": "lo", "type": "quantitative", "title": null, "scale": {"domain": [0, 100]}, "axis": {"tickCount": 5, "labelExpr": "datum.value + '%'", "labelOverlap": false}},
               "y2": {"field": "hi"},
               "color": {"field": "mod", "type": "nominal", "title": null, "scale": {"domain": ["me1","me2","me3","ac","ph"], "range": ["#62b35b","#3385d6","#d23a36","#f9df5a","#f87cf0"]}}
             }},
            {"transform": [{"filter": "datum.err > 0"}],
             "mark": {"type": "errorbar", "ticks": {"size": 4}, "color": "#111", "thickness": 1},
             "encoding": {"x": {"field": "res", "type": "nominal"}, "y": {"field": "hi", "type": "quantitative", "title": null}, "yError": {"field": "err"}}},
            {"data": {"values": [{"t": "S phase"}]},
             "mark": {"type": "text", "align": "left", "baseline": "alphabetic", "fontSize": 19, "dx": 0, "color": "#000"},
             "encoding": {"x": {"datum": "T32"}, "y": {"datum": 84.5}, "text": {"field": "t"}}}
          ]
        },
        {
          "width": 288, "height": 194,
          "transform": [
            {"filter": "datum.hist === 'H3.2' && datum.phase === 'M'"},
            {"lookup": "mod", "from": {"data": {"name": "mods"}, "key": "mod", "fields": ["rank"]}},
            {"stack": "pct", "groupby": ["res"], "sort": [{"field": "rank", "order": "ascending"}], "as": ["lo", "hi"]}
          ],
          "layer": [
            {"mark": {"type": "bar", "stroke": "#777", "strokeWidth": 0.6},
             "encoding": {
               "x": {"field": "res", "type": "nominal", "title": null, "scale": {"domain": ["T3","T6","K4","R8","K9","S10","T11","K14","R17","K18","T22","K23","R26","K27","S28","T32","K36","K37","R40","Y41","R42"], "paddingInner": 0.15, "paddingOuter": 0.1}},
               "y": {"field": "lo", "type": "quantitative", "title": null, "scale": {"domain": [0, 100]}, "axis": {"tickCount": 5, "labelExpr": "datum.value + '%'", "labelOverlap": false}},
               "y2": {"field": "hi"},
               "color": {"field": "mod", "type": "nominal", "title": null, "scale": {"domain": ["me1","me2","me3","ac","ph"], "range": ["#62b35b","#3385d6","#d23a36","#f9df5a","#f87cf0"]}}
             }},
            {"transform": [{"filter": "datum.err > 0"}],
             "mark": {"type": "errorbar", "ticks": {"size": 4}, "color": "#111", "thickness": 1},
             "encoding": {"x": {"field": "res", "type": "nominal"}, "y": {"field": "hi", "type": "quantitative", "title": null}, "yError": {"field": "err"}}},
            {"data": {"values": [{"t": "M phase"}]},
             "mark": {"type": "text", "align": "left", "baseline": "alphabetic", "fontSize": 19, "dx": 0, "color": "#000"},
             "encoding": {"x": {"datum": "T32"}, "y": {"datum": 88}, "text": {"field": "t"}}}
          ]
        }
      ]
    }
  ]
}
